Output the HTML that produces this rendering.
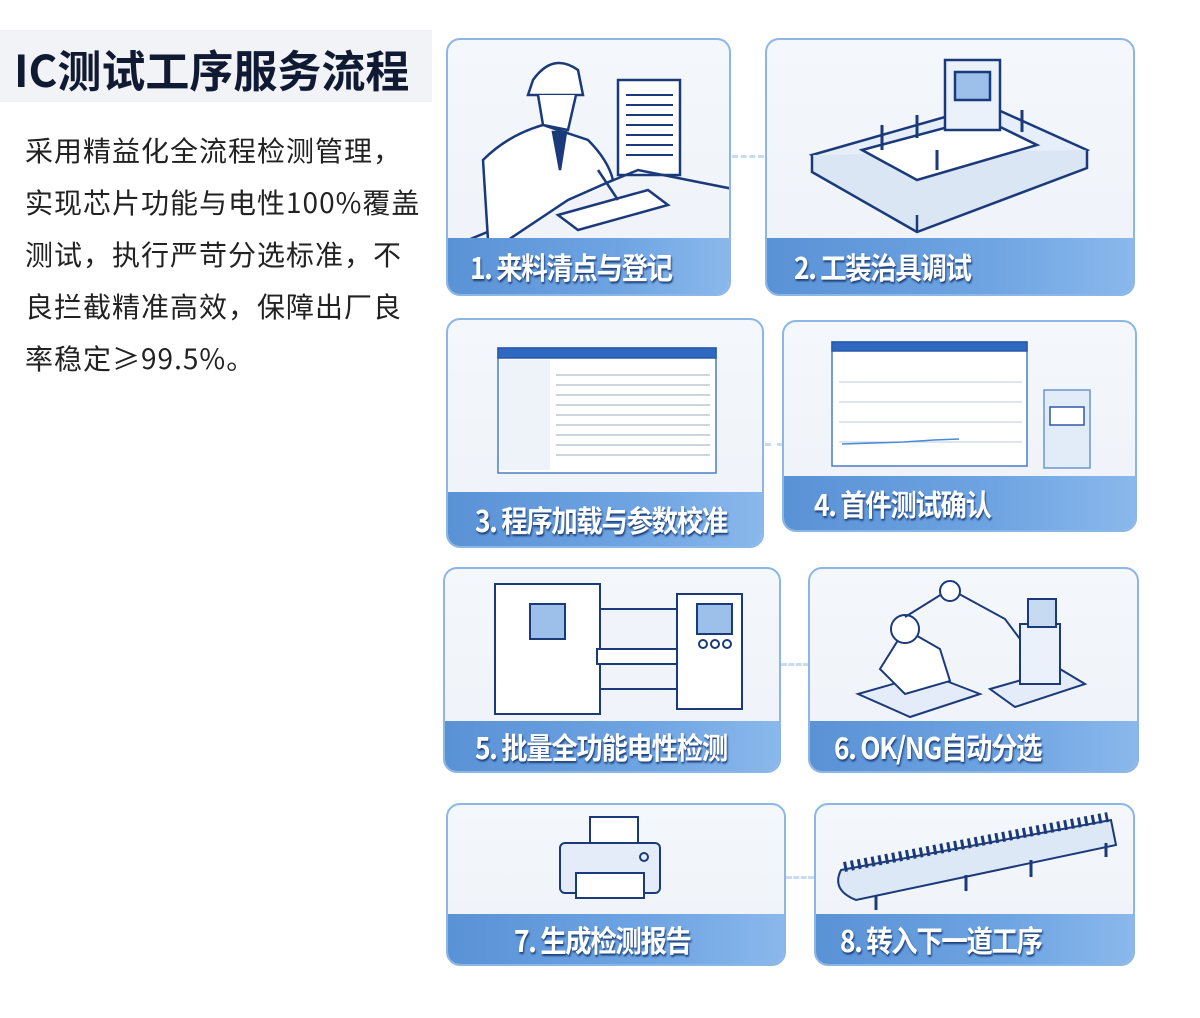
<!DOCTYPE html>
<html><head><meta charset="utf-8"><style>
*{margin:0;padding:0;box-sizing:border-box}
body{width:1200px;height:1018px;background:#fff;position:relative;overflow:hidden;font-family:"Liberation Sans","Noto Sans CJK SC",sans-serif}
.title{position:absolute;left:0;top:30px;width:432px;height:72px;background:#f1f3f6;}
.title span{position:absolute;left:14px;top:6px;font-size:44px;font-weight:bold;color:#111a33;letter-spacing:0px;font-family:"Noto Sans CJK SC",sans-serif;white-space:nowrap}
.body{position:absolute;left:25px;top:124px;width:420px;font-size:28px;letter-spacing:1px;line-height:52px;color:#222;font-family:"Noto Sans CJK SC",sans-serif;white-space:nowrap}
.card{position:absolute;border:2px solid #8cb6e6;border-radius:14px;background:linear-gradient(#f4f7fb,#eef3f9);overflow:hidden}
.bar{position:absolute;left:0;right:0;bottom:0;background:linear-gradient(90deg,#5a92d6,#6ea4e2 60%,#8ab8ec);}
.bar span{position:absolute;top:50%;transform:translateY(-50%) scaleX(0.88);transform-origin:left center;color:#fff;font-weight:bold;font-size:30px;font-family:"Noto Sans CJK SC",sans-serif;text-shadow:1px 2px 2px #1d3f78;white-space:nowrap;letter-spacing:-1.5px}
.card svg{position:absolute;left:0;top:0}
.dash{position:absolute;height:3px;border-top:3px dashed #c7dbf2}
</style></head><body>
<div class="title"><span>IC测试工序服务流程</span></div>
<div class="body">采用精益化全流程检测管理，<br>实现芯片功能与电性100%覆盖<br>测试，执行严苛分选标准，不<br>良拦截精准高效，保障出厂良<br>率稳定≥99.5%。</div>

<div class="dash" style="left:732px;top:155px;width:32px"></div>
<div class="dash" style="left:765px;top:443px;width:18px"></div>
<div class="dash" style="left:781px;top:663px;width:28px"></div>
<div class="dash" style="left:786px;top:876px;width:28px"></div>

<!-- card 1 -->
<div class="card" style="left:446px;top:38px;width:285px;height:258px">
<svg width="285" height="200" fill="none" stroke="#1b3a7a" stroke-width="2.5">
<rect x="170" y="40" width="62" height="95" fill="#fff"/>
<g stroke-width="2"><line x1="178" y1="55" x2="225" y2="55"/><line x1="178" y1="65" x2="225" y2="65"/><line x1="178" y1="75" x2="225" y2="75"/><line x1="178" y1="85" x2="225" y2="85"/><line x1="178" y1="95" x2="225" y2="95"/><line x1="178" y1="105" x2="225" y2="105"/><line x1="178" y1="115" x2="225" y2="115"/></g>
<path d="M20 200 L190 130 L290 150"/>
<path d="M85 40 Q105 12 130 30 L135 55 L80 55 Z" fill="#fff"/>
<path d="M90 55 L95 85 L120 90 L128 55" fill="#fff"/>
<path d="M40 200 L35 120 Q60 95 95 85 L140 100 Q160 120 165 140 L120 160 L60 200" fill="#fff"/>
<path d="M105 92 L112 130 L118 92 Z" fill="#1b3a7a"/>
<path d="M110 175 L200 150 L220 165 L130 190 Z" fill="#fff"/>
<line x1="150" y1="130" x2="170" y2="160"/>
</svg>
<div class="bar" style="height:56px"><span style="left:22px">1. 来料清点与登记</span></div></div>

<!-- card 2 -->
<div class="card" style="left:765px;top:38px;width:370px;height:258px">
<svg width="370" height="200" fill="none" stroke="#1b3a7a" stroke-width="2.5">
<path d="M45 115 L220 65 L320 110 L150 175 Z" fill="#e6eef9"/>
<path d="M45 115 L45 132 L150 192 L320 128 L320 110" fill="#dbe6f5"/>
<path d="M150 175 L150 192"/>
<path d="M95 110 L215 78 L270 105 L150 140 Z" fill="#fff"/>
<rect x="178" y="20" width="55" height="70" fill="#eaf1fa"/>
<rect x="188" y="32" width="35" height="28" fill="#9cc0ea"/>
<g stroke-width="3"><line x1="115" y1="85" x2="115" y2="110"/><line x1="150" y1="75" x2="150" y2="98"/><line x1="170" y1="110" x2="170" y2="130"/><line x1="255" y1="70" x2="255" y2="92"/></g>
</svg>
<div class="bar" style="height:56px"><span style="left:27px">2. 工装治具调试</span></div></div>

<!-- card 3 -->
<div class="card" style="left:446px;top:318px;width:318px;height:230px">
<svg width="318" height="180" fill="none" stroke="#2a5aa8" stroke-width="1.5">
<rect x="50" y="28" width="218" height="125" fill="#fff" stroke="#4a7cc4"/>
<rect x="50" y="28" width="218" height="10" fill="#2f68c0"/>
<rect x="52" y="40" width="50" height="110" fill="#eef3fa" stroke="none"/>
<g stroke="#9ab" stroke-width="1"><line x1="108" y1="55" x2="262" y2="55"/><line x1="108" y1="65" x2="262" y2="65"/><line x1="108" y1="75" x2="262" y2="75"/><line x1="108" y1="85" x2="262" y2="85"/><line x1="108" y1="95" x2="262" y2="95"/><line x1="108" y1="105" x2="262" y2="105"/><line x1="108" y1="115" x2="262" y2="115"/><line x1="108" y1="125" x2="262" y2="125"/><line x1="108" y1="135" x2="262" y2="135"/></g>
</svg>
<div class="bar" style="height:54px"><span style="left:27px">3. 程序加载与参数校准</span></div></div>

<!-- card 4 -->
<div class="card" style="left:782px;top:320px;width:355px;height:212px">
<svg width="355" height="160" fill="none" stroke="#2a5aa8" stroke-width="1.5">
<rect x="48" y="20" width="195" height="124" fill="#fff" stroke="#4a7cc4"/>
<rect x="48" y="20" width="195" height="9" fill="#2f68c0"/>
<g stroke="#bcd" stroke-width="1"><line x1="55" y1="60" x2="238" y2="60"/><line x1="55" y1="80" x2="238" y2="80"/><line x1="55" y1="100" x2="238" y2="100"/><line x1="55" y1="120" x2="238" y2="120"/></g>
<path d="M58 122 L120 120 L150 118 L175 117" stroke="#4a8ad8"/>
<rect x="260" y="68" width="46" height="78" fill="#e2ecf8" stroke="#6a98d0"/>
<rect x="266" y="85" width="34" height="18" fill="#fff"/>
</svg>
<div class="bar" style="height:54px"><span style="left:30px">4. 首件测试确认</span></div></div>

<!-- card 5 -->
<div class="card" style="left:443px;top:567px;width:338px;height:206px">
<svg width="338" height="160" fill="none" stroke="#1b3a7a" stroke-width="2">
<rect x="50" y="15" width="105" height="130" fill="#fff"/>
<rect x="85" y="35" width="35" height="35" fill="#9cc0ea"/>
<rect x="155" y="40" width="80" height="80" fill="#f0f4fa"/>
<rect x="152" y="80" width="95" height="15" fill="#fff"/>
<rect x="232" y="25" width="65" height="115" fill="#fff"/>
<rect x="252" y="35" width="35" height="30" fill="#9cc0ea"/>
<circle cx="258" cy="75" r="4"/><circle cx="270" cy="75" r="4"/><circle cx="282" cy="75" r="4"/>
</svg>
<div class="bar" style="height:50px"><span style="left:30px">5. 批量全功能电性检测</span></div></div>

<!-- card 6 -->
<div class="card" style="left:808px;top:567px;width:331px;height:206px">
<svg width="331" height="160" fill="none" stroke="#1b3a7a" stroke-width="2">
<path d="M48 125 L118 105 L170 125 L100 148 Z" fill="#e3ecf8"/>
<path d="M70 100 L95 125 L140 112 L130 80 L95 60 Z" fill="#fff"/>
<circle cx="95" cy="60" r="14" fill="#fff"/>
<path d="M95 48 L140 20 L195 50 L210 70"/>
<circle cx="140" cy="22" r="10" fill="#fff"/>
<path d="M180 120 L250 100 L275 115 L205 138 Z" fill="#e3ecf8"/>
<rect x="210" y="55" width="40" height="60" fill="#eaf1fa"/>
<rect x="218" y="30" width="28" height="28" fill="#c6daf2"/>
</svg>
<div class="bar" style="height:50px"><span style="left:24px">6. OK/NG自动分选</span></div></div>

<!-- card 7 -->
<div class="card" style="left:446px;top:803px;width:340px;height:163px">
<svg width="340" height="115" fill="none" stroke="#1b3a7a" stroke-width="2">
<rect x="142" y="12" width="48" height="30" fill="#fff"/>
<rect x="112" y="38" width="100" height="50" rx="5" fill="#e3ecf8"/>
<rect x="128" y="68" width="68" height="25" fill="#fff"/>
<circle cx="196" cy="52" r="4"/>
</svg>
<div class="bar" style="height:50px"><span style="left:66px">7. 生成检测报告</span></div></div>

<!-- card 8 -->
<div class="card" style="left:814px;top:803px;width:321px;height:163px">
<svg width="321" height="115" fill="none" stroke="#1b3a7a" stroke-width="2">
<path d="M25 65 L295 15 L300 40 L40 95 Q15 85 25 65 Z" fill="#dde8f6"/>
<path d="M28 62 L292 12" stroke="#1b3a7a" stroke-width="10" stroke-dasharray="3 4"/>
<g stroke-width="3"><line x1="60" y1="90" x2="60" y2="105"/><line x1="150" y1="70" x2="150" y2="86"/><line x1="215" y1="55" x2="215" y2="72"/><line x1="290" y1="38" x2="290" y2="52"/></g>
</svg>
<div class="bar" style="height:50px"><span style="left:24px">8. 转入下一道工序</span></div></div>
</body></html>
